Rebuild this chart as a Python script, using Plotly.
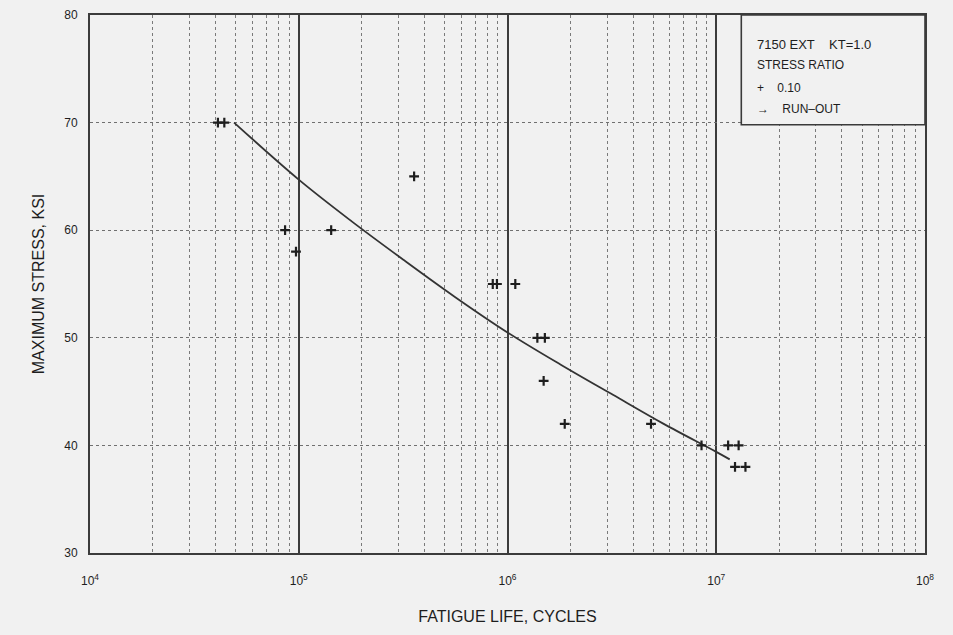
import plotly.graph_objects as go

# Test data (fatigue life, cycles ; maximum stress, ksi)
cycles = [4.1e4, 4.4e4, 8.6e4, 9.7e4, 1.43e5, 3.57e5, 8.5e5, 8.9e5, 1.09e6,
          1.39e6, 1.51e6, 1.49e6, 1.88e6, 4.87e6, 8.5e6, 1.14e7, 1.28e7, 1.23e7, 1.38e7]
stress = [70, 70, 60, 58, 60, 65, 55, 55, 55,
          50, 50, 46, 42, 42, 40, 40, 40, 38, 38]

# Best-fit curve
fit_cycles = [4.9e4, 1.0e5, 1.8e5, 3.2e5, 5.6e5, 1.0e6, 1.8e6, 3.2e6, 5.6e6, 1.0e7, 1.16e7]
fit_stress = [70.0, 64.7, 60.8, 57.2, 53.8, 50.5, 47.5, 44.7, 42.0, 39.4, 38.7]

x_tickvals = [1e4, 1e5, 1e6, 1e7, 1e8]
x_ticktext = ["10<sup>4</sup>", "10<sup>5</sup>", "10<sup>6</sup>", "10<sup>7</sup>", "10<sup>8</sup>"]
y_tickvals = [30, 40, 50, 60, 70, 80]

legend_lines = ["7150 EXT    KT=1.0", "STRESS RATIO", "+    0.10", "\u2192    RUN\u2013OUT"]

ink = "#1e1e1e"
font = "Liberation Sans, Arial"

fig = go.Figure()
fig.add_trace(go.Scatter(x=fit_cycles, y=fit_stress, mode="lines",
                         line=dict(color="#333333", width=1.8, shape="spline", smoothing=1.0),
                         hoverinfo="skip", showlegend=False))
fig.add_trace(go.Scatter(x=cycles, y=stress, mode="markers",
                         marker=dict(symbol="cross-thin", size=7,
                                     line=dict(color=ink, width=2.2)),
                         showlegend=False))

fig.update_xaxes(type="log", range=[4, 8], tickvals=x_tickvals, ticktext=x_ticktext,
                 showgrid=True, gridcolor="#3c3c3c", gridwidth=1.8,
                 minor=dict(showgrid=True, gridcolor="#7a7a7a", griddash="dot", gridwidth=1,
                            dtick="D1"),
                 showline=True, linecolor="#3c3c3c", linewidth=1.8, mirror=True,
                 ticks="", ticklabelstandoff=16, zeroline=False,
                 tickfont=dict(family=font, size=12, color=ink),
                 title=dict(text="FATIGUE LIFE, CYCLES", standoff=24,
                            font=dict(family=font, size=16, color=ink)))
fig.update_yaxes(range=[30, 80], tickvals=y_tickvals,
                 showgrid=True, gridcolor="#707070", griddash="dot", gridwidth=1,
                 showline=True, linecolor="#3c3c3c", linewidth=1.8, mirror=True,
                 ticks="", ticklabelstandoff=8, zeroline=False,
                 tickfont=dict(family=font, size=12, color=ink),
                 title=dict(text="MAXIMUM STRESS, KSI", standoff=16,
                            font=dict(family=font, size=16, color=ink)))

# legend box
fig.add_shape(type="rect", xref="paper", yref="paper", x0=0.78, x1=1.0, y0=0.796, y1=1.0,
              line=dict(color="#3a3a3a", width=1.6), fillcolor="#f1f1f1", layer="above")
ys = [0.945, 0.907, 0.864, 0.825]
sizes = [13, 12, 12, 12]
for t, yy, s in zip(legend_lines, ys, sizes):
    fig.add_annotation(text=t, xref="paper", yref="paper", x=0.797, y=yy,
                       xanchor="left", yanchor="middle", showarrow=False,
                       font=dict(family=font, size=s, color=ink))

fig.update_layout(width=953, height=635, margin=dict(l=90, r=28, t=8, b=82),
                  paper_bgcolor="#f1f1f1", plot_bgcolor="#f1f1f1")

fig.write_html("out.html", config={"displayModeBar": False},
               post_script="document.body.style.margin='0';document.body.style.overflow='hidden';")
